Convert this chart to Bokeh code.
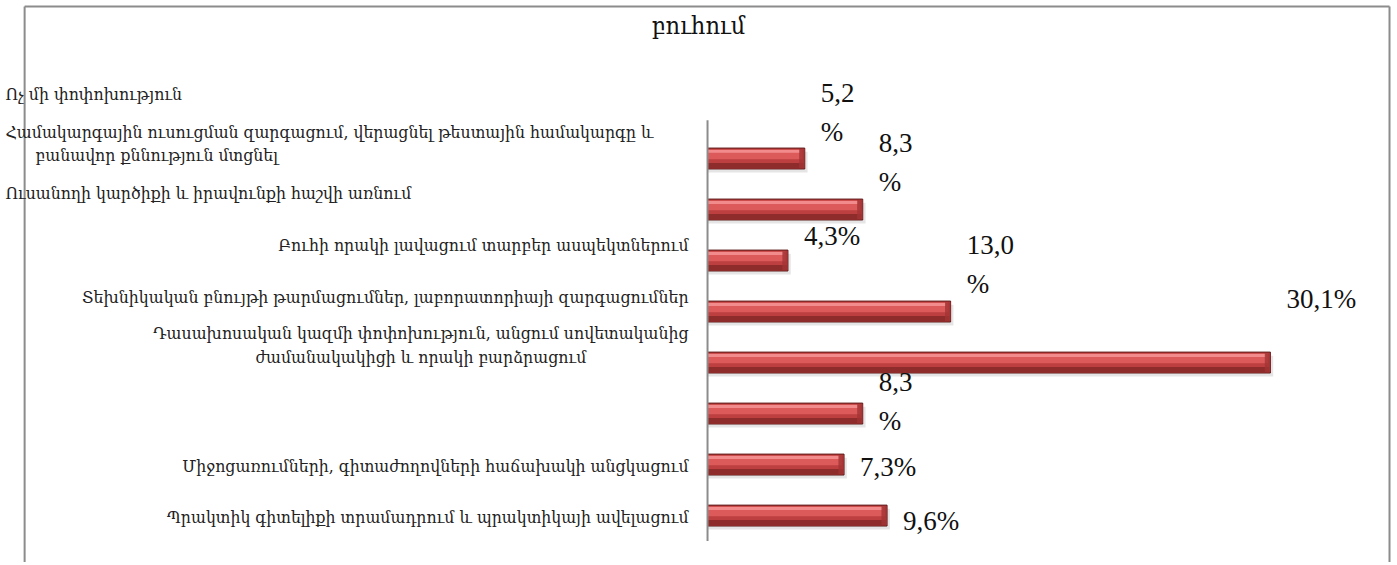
from bokeh.plotting import figure
from bokeh.models import ColumnDataSource, Range1d
from bokeh.core.properties import value
from bokeh.embed import file_html
from bokeh.resources import INLINE

# ---------------- data ----------------
title_text = "բուհում"
categories = [
    "Ոչ մի փոփոխություն",
    "Համակարգային ուսուցման զարգացում, վերացնել թեստային համակարգը և\n\u00a0\u00a0\u00a0\u00a0\u00a0\u00a0բանավոր քննություն մտցնել",
    "Ուսանողի կարծիքի և իրավունքի հաշվի առնում",
    "Բուհի որակի լավացում տարբեր ասպեկտներում",
    "Տեխնիկական բնույթի թարմացումներ, լաբորատորիայի զարգացումներ",
    "Դասախոսական կազմի փոփոխություն, անցում սովետականից\nժամանակակիցի և որակի բարձրացում",
    "Միջոցառումների, գիտաժողովների հաճախակի անցկացում",
    "Պրակտիկ գիտելիքի տրամադրում և պրակտիկայի ավելացում",
]
values = [5.2, 8.3, 4.3, 13.0, 30.1, 8.3, 7.3, 9.6]
value_labels = ["5,2\n%", "8,3\n%", "4,3%", "13,0\n%", "30,1%", "8,3\n%", "7,3%", "9,6%"]

# ---------------- layout (pixel offsets of the misplaced labels) ----------------
cat_left_side = [True, True, True, False, False, False, False, False]
cat_dy = [-65, -66, -68, -67, -66, -69, 1, 1]
val_dy = [-46, -47, -25, -47, -64, -12, 2, 5]

n = len(values)
ypos = [-i for i in range(n)]
BAR_H = 0.41
BAR_FONT = "DejaVu Serif Condensed"
VAL_FONT = "Liberation Serif"
Y_TOP = 3.098

p = figure(width=1392, height=562, output_backend="svg", toolbar_location=None,
           x_range=Range1d(-37.81, 36.63), y_range=Range1d(-7.92, Y_TOP),
           min_border=0, outline_line_color=None)
p.xaxis.visible = False
p.yaxis.visible = False
p.grid.visible = False
p.background_fill_color = "white"

# outer border (chart area frame)
p.segment(x0=[-36.52, -36.52, 36.47], y0=[2.98, 2.98, 2.98],
          x1=[36.47, -36.52, 36.47], y1=[2.98, -9.0, -9.0],
          line_color="#8c8c8c", line_width=2)

# soft shadow
p.hbar(y=[y - 0.07 for y in ypos], left=0, right=[v + 0.15 for v in values], height=BAR_H,
       fill_color="#000000", fill_alpha=0.10, line_color=None)
# body
p.hbar(y=ypos, left=0, right=values, height=BAR_H,
       fill_color="#bd3f3f", line_color="#5e1a1a", line_width=1)
# upper lighter band
p.hbar(y=[y + BAR_H * 0.2 for y in ypos], left=0, right=[v - 0.12 for v in values],
       height=BAR_H * 0.46, fill_color="#dc5a5a", line_color=None)
# top highlight
p.hbar(y=[y + BAR_H * 0.34 for y in ypos], left=0, right=[v - 0.25 for v in values],
       height=BAR_H * 0.14, fill_color="#f28c8c", line_color=None)
# lower dark band
p.hbar(y=[y - BAR_H * 0.34 for y in ypos], left=0, right=[v - 0.05 for v in values],
       height=BAR_H * 0.26, fill_color="#8e2c2c", line_color=None)
# right bevel
p.hbar(y=ypos, left=[v - 0.3 for v in values], right=values, height=BAR_H * 0.9,
       fill_color="#a23434", fill_alpha=0.8, line_color=None)

# category axis line
p.segment(x0=[0], y0=[0.75], x1=[0], y1=[-(n - 1) - 0.5], line_color="#8c8c8c", line_width=2)

# category labels
left_idx = [i for i in range(n) if cat_left_side[i]]
right_idx = [i for i in range(n) if not cat_left_side[i]]
src_l = ColumnDataSource(dict(x=[0] * len(left_idx), y=[ypos[i] for i in left_idx],
                              t=[categories[i] for i in left_idx], dy=[cat_dy[i] for i in left_idx]))
src_r = ColumnDataSource(dict(x=[0] * len(right_idx), y=[ypos[i] for i in right_idx],
                              t=[categories[i] for i in right_idx], dy=[cat_dy[i] for i in right_idx]))
p.text(x="x", y="y", text="t", source=src_l, x_offset=-702, y_offset="dy",
       text_align="left", text_baseline="middle", anchor="center_left",
       text_font=value(BAR_FONT), text_font_size="17.5px", text_color="#222222",
       text_line_height=1.15)
p.text(x="x", y="y", text="t", source=src_r, x_offset=-19, y_offset="dy",
       text_align="center", text_baseline="middle", anchor="center_right",
       text_font=value(BAR_FONT), text_font_size="17.5px", text_color="#222222",
       text_line_height=1.2)

# value labels
src_v = ColumnDataSource(dict(x=values, y=ypos, t=value_labels, dy=val_dy))
p.text(x="x", y="y", text="t", source=src_v, x_offset=16, y_offset="dy",
       text_align="left", text_baseline="middle", anchor="center_left",
       text_font=value(VAL_FONT), text_font_size="27px", text_color="#111111",
       text_line_height=1.3)

# title
p.text(x=[0], y=[Y_TOP], text=[title_text], x_offset=-9, y_offset=25,
       text_align="center", text_baseline="middle",
       text_font=value(BAR_FONT), text_font_size="25px", text_color="#111111")

open("out.html", "w").write(file_html(p, INLINE))
